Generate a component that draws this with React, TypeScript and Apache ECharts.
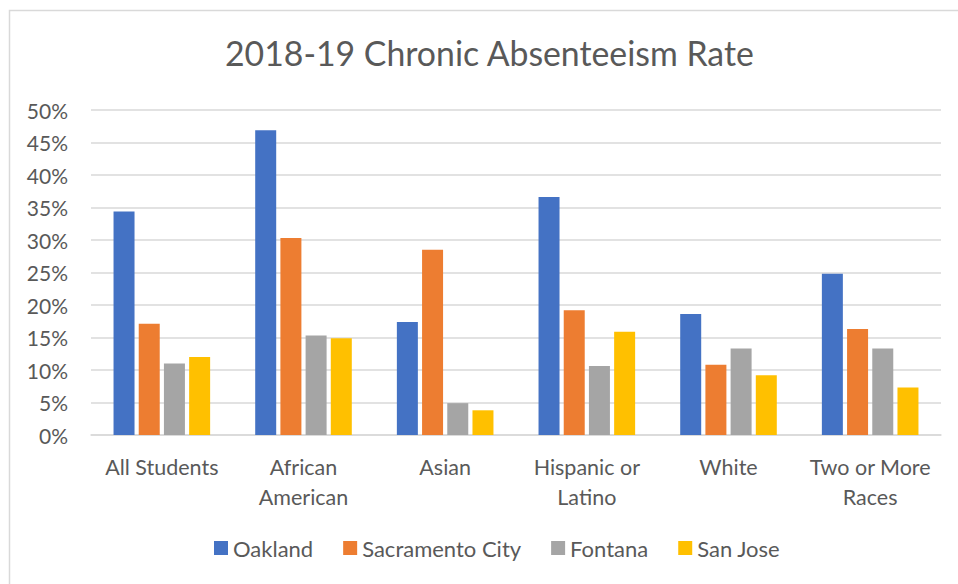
import React, { useEffect, useRef } from "react";
import * as echarts from "echarts";

const categories = [
  "All Students",
  "African\nAmerican",
  "Asian",
  "Hispanic or\nLatino",
  "White",
  "Two or More\nRaces",
];
const seriesNames = ["Oakland", "Sacramento City", "Fontana", "San Jose"];
const oakland = [34.4, 46.9, 17.4, 36.6, 18.6, 24.8];
const sacramento = [17.1, 30.3, 28.5, 19.2, 10.8, 16.3];
const fontana = [11.0, 15.3, 4.9, 10.6, 13.3, 13.3];
const sanJose = [12.0, 14.9, 3.8, 15.9, 9.2, 7.3];
const colors = ["#4472C4", "#ED7D31", "#A5A5A5", "#FFC000"];
const yTicks = { min: 0, max: 50, interval: 5 };

const FONT = "Lato";
const TXT = "#595959";

export default function App() {
  const ref = useRef<HTMLDivElement>(null);
  useEffect(() => {
    if (!ref.current) return;
    const chart = echarts.init(ref.current, null, { renderer: "svg" });
    const values = [oakland, sacramento, fontana, sanJose];
    chart.setOption({
      animation: false,
      backgroundColor: "#ffffff",
      title: {
        text: "2018-19 Chronic Absenteeism Rate",
        left: 225,
        top: 36,
        padding: 0,
        textStyle: { fontFamily: FONT, fontSize: 33.8, fontWeight: "normal", color: TXT },
      },
      graphic: [
        {
          type: "rect",
          shape: { x: 9.5, y: 10.5, width: 1000, height: 1000 },
          style: { fill: "none", stroke: "#D9D9D9", lineWidth: 1.5 },
          silent: true,
        },
      ],
      legend: {
        data: seriesNames,
        left: 209,
        top: 532,
        itemWidth: 14,
        itemHeight: 14,
        itemGap: 30,
        icon: "rect",
        textStyle: { fontFamily: FONT, fontSize: 22, color: TXT },
      },
      grid: { left: 91, right: 17, top: 110, bottom: 149, containLabel: false },
      xAxis: {
        type: "category",
        data: categories,
        axisLine: { show: true, lineStyle: { color: "#D9D9D9", width: 1.5 } },
        axisTick: { show: false },
        axisLabel: {
          margin: 17,
          fontFamily: FONT,
          fontSize: 21.5,
          lineHeight: 30,
          color: TXT,
          interval: 0,
        },
      },
      yAxis: {
        type: "value",
        min: yTicks.min,
        max: yTicks.max,
        interval: yTicks.interval,
        axisLine: { show: false },
        axisTick: { show: false },
        splitLine: { lineStyle: { color: "#D9D9D9", width: 1.5 } },
        axisLabel: {
          margin: 23,
          fontFamily: FONT,
          fontSize: 21,
          color: TXT,
          formatter: (v: number) => `${v}%`,
        },
      },
      series: seriesNames.map((name, i) => ({
        name,
        type: "bar",
        data: values[i],
        barWidth: 21,
        barGap: "20%",
        itemStyle: { color: colors[i] },
      })),
    });
    return () => chart.dispose();
  }, []);
  return (
    <div
      ref={ref}
      style={{ position: "fixed", left: 0, top: 0, width: 958, height: 584 }}
    />
  );
}
